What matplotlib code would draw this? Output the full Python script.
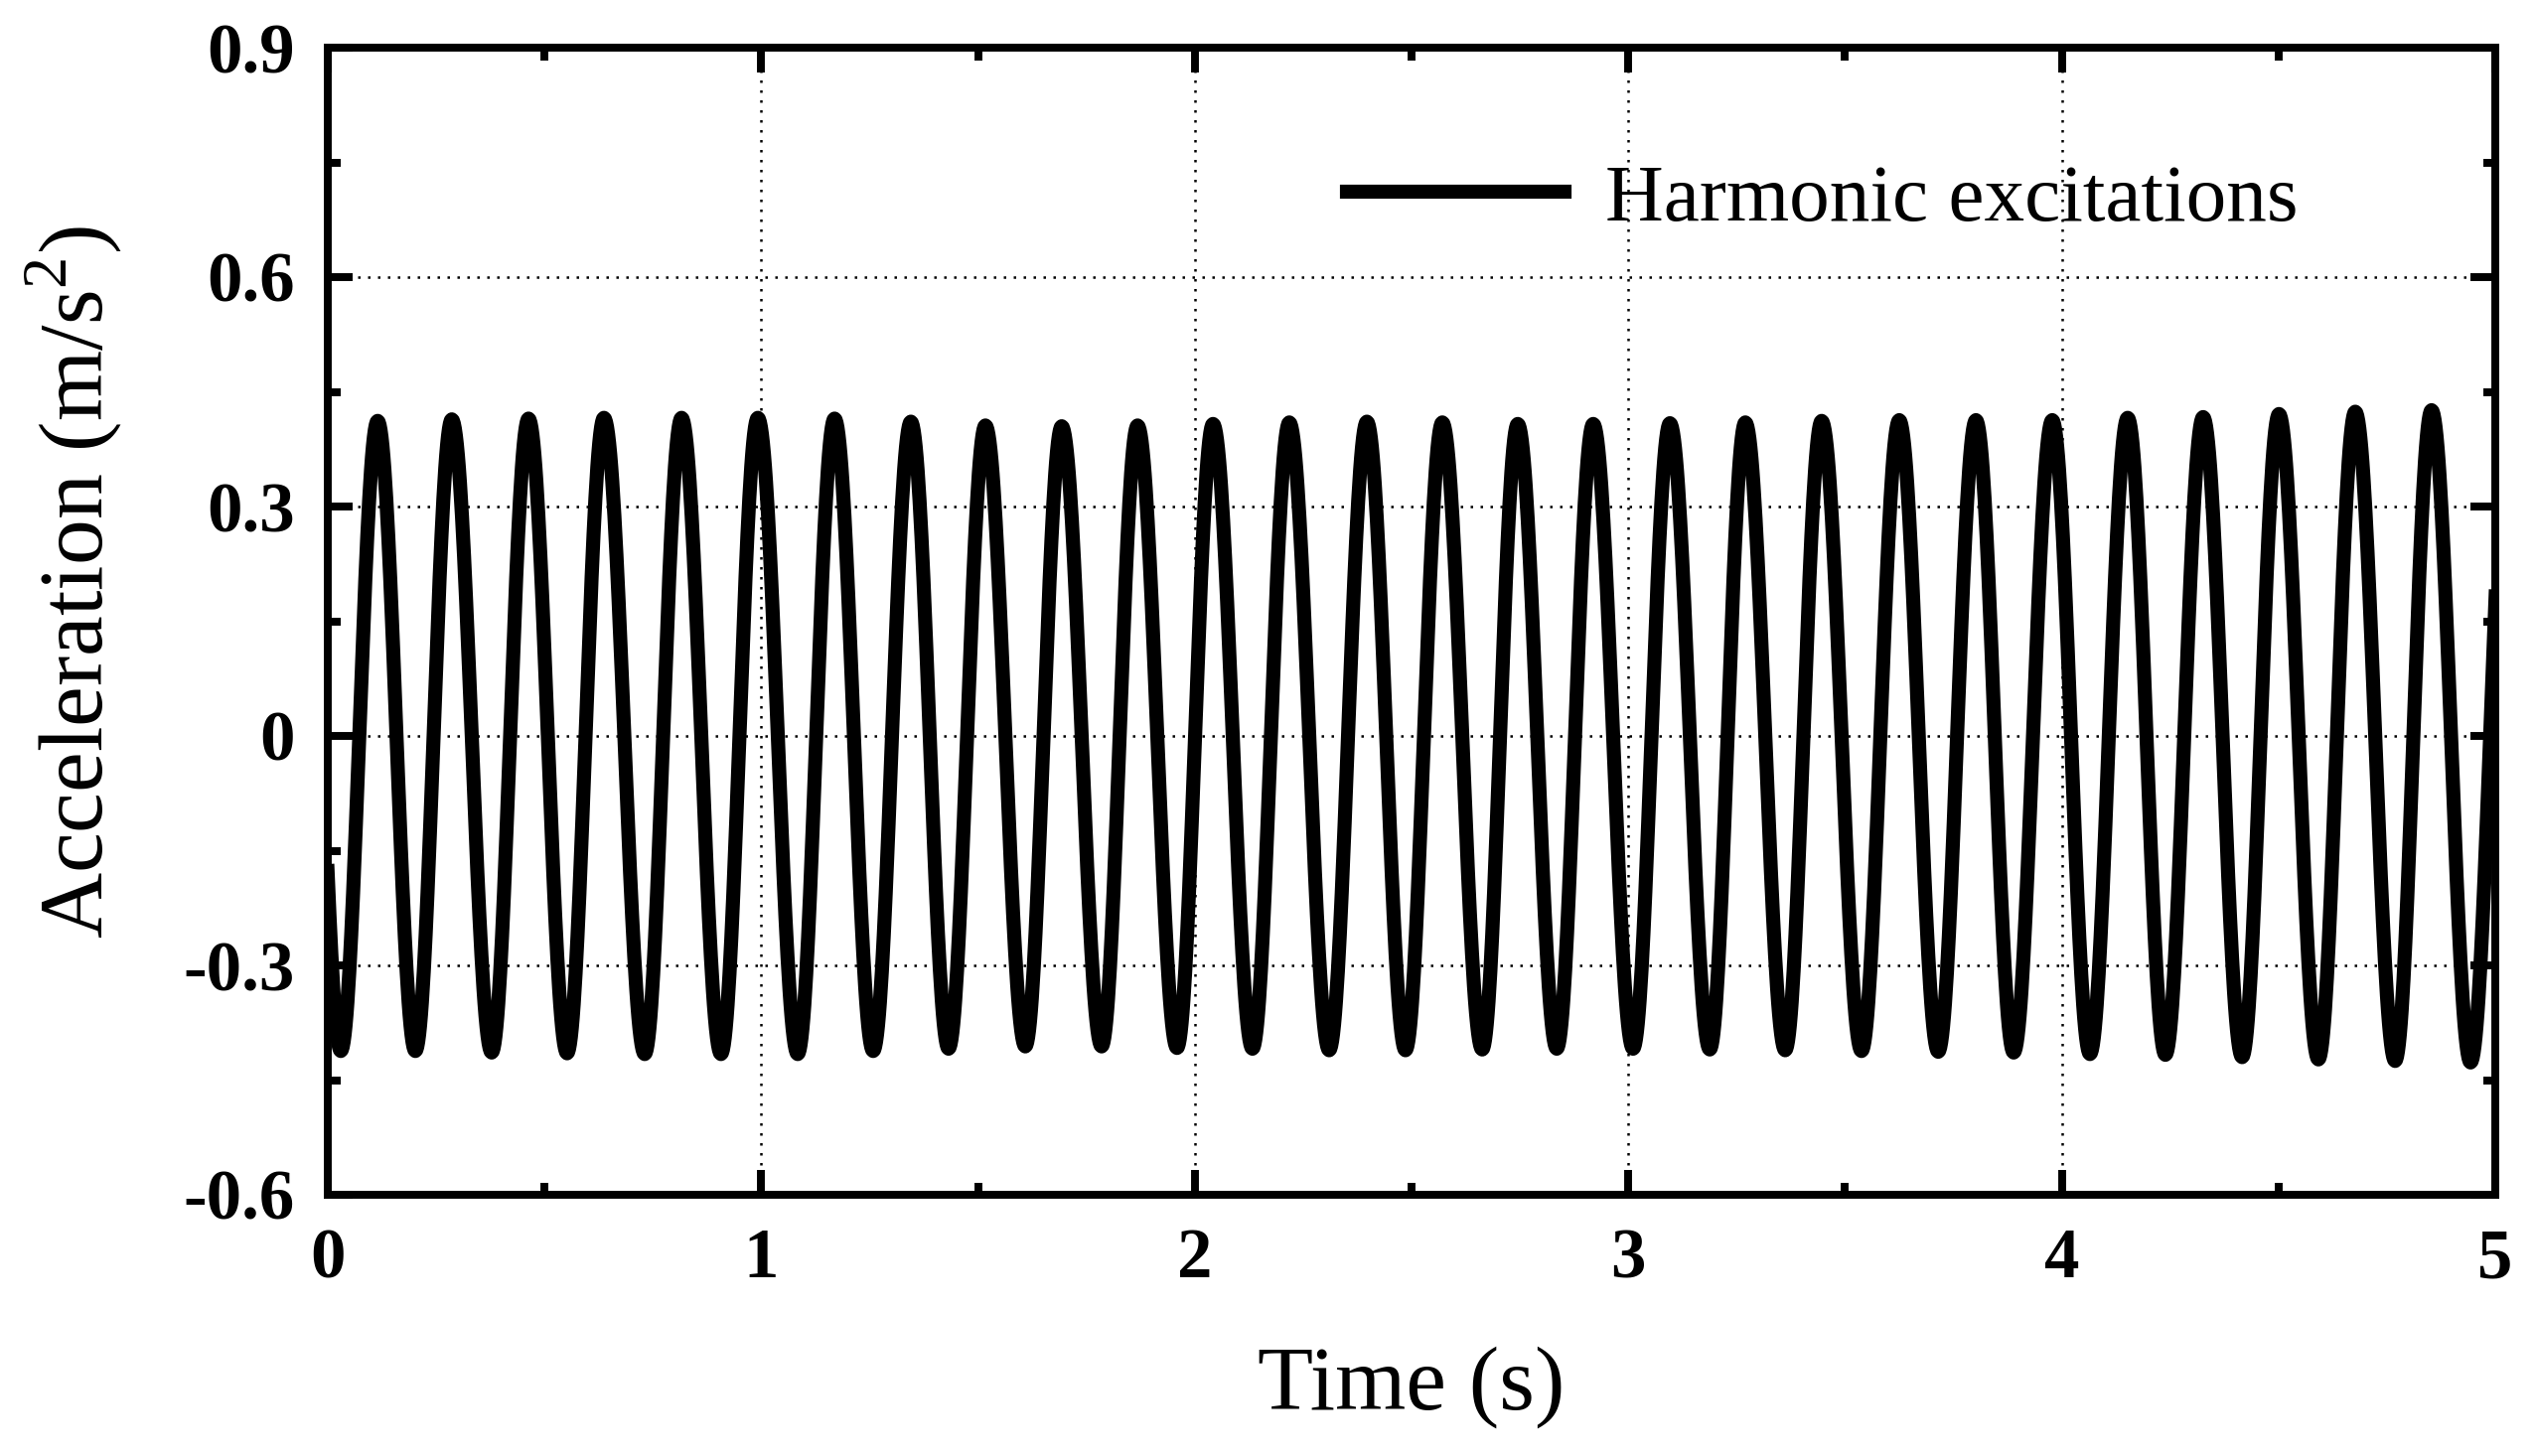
import numpy as np
from matplotlib import pyplot as plt
from matplotlib.ticker import MultipleLocator

plt.rcParams['font.family'] = ['Liberation Serif', 'DejaVu Serif']
plt.rcParams['mathtext.fontset'] = 'custom'
plt.rcParams['mathtext.rm'] = 'Liberation Serif'

# Peaks and troughs (time in s, acceleration in m/s^2)
peak_t = [0.115, 0.286, 0.463, 0.637, 0.816, 0.992, 1.169, 1.345, 1.517, 1.693,
          1.868, 2.042, 2.218, 2.397, 2.571, 2.745, 2.919, 3.096, 3.270, 3.446,
          3.625, 3.802, 3.978, 4.152, 4.326, 4.501, 4.677, 4.853]
peak_a = [0.412, 0.414, 0.415, 0.416, 0.416, 0.416, 0.415, 0.411, 0.406, 0.405,
          0.406, 0.408, 0.410, 0.411, 0.410, 0.408, 0.408, 0.409, 0.410, 0.412,
          0.413, 0.413, 0.413, 0.416, 0.417, 0.421, 0.424, 0.426]
trough_t = [0.030, 0.202, 0.378, 0.552, 0.731, 0.907, 1.084, 1.258, 1.432, 1.609,
            1.785, 1.959, 2.133, 2.310, 2.486, 2.663, 2.835, 3.011, 3.188, 3.362,
            3.538, 3.715, 3.889, 4.065, 4.239, 4.416, 4.592, 4.769, 4.943]
trough_a = [-0.412, -0.412, -0.414, -0.415, -0.416, -0.416, -0.416, -0.412, -0.409, -0.406,
            -0.406, -0.408, -0.409, -0.411, -0.411, -0.410, -0.409, -0.409, -0.410, -0.411,
            -0.412, -0.413, -0.414, -0.416, -0.417, -0.420, -0.423, -0.425, -0.427]

x_ticks = [0, 1, 2, 3, 4, 5]
x_labels = ['0', '1', '2', '3', '4', '5']
y_ticks = [-0.6, -0.3, 0, 0.3, 0.6, 0.9]
y_labels = ['-0.6', '-0.3', '0', '0.3', '0.6', '0.9']

# join extrema with half-cosine arcs
te = np.array(peak_t + trough_t)
ae = np.array(peak_a + trough_a)
order = np.argsort(te)
te = te[order]
ae = ae[order]
# one more arc on each side so the curve reaches the frame
te = np.concatenate(([2 * te[0] - te[1]], te, [2 * te[-1] - te[-2]]))
ae = np.concatenate(([ae[1]], ae, [ae[-2]]))

t = []
acc = []
s = np.linspace(0, 1, 40)
for i in range(len(te) - 1):
    t.append(te[i] + (te[i + 1] - te[i]) * s)
    acc.append(ae[i] + (ae[i + 1] - ae[i]) * (1 - np.cos(np.pi * s)) / 2)
t = np.concatenate(t)
acc = np.concatenate(acc)

fig = plt.figure(figsize=(2553 / 300, 1466 / 300), dpi=300)
ax = fig.add_axes([330 / 2553, 1 - 1203 / 1466, 2182 / 2553, 1155 / 1466])

ax.plot(t, acc, color='k', lw=3.4, label='Harmonic excitations')

ax.set_xlim(0, 5)
ax.set_ylim(-0.6, 0.9)
ax.set_xticks(x_ticks)
ax.set_xticklabels(x_labels, fontsize=17, fontweight='bold')
ax.set_yticks(y_ticks)
ax.set_yticklabels(y_labels, fontsize=17, fontweight='bold')
ax.xaxis.set_minor_locator(MultipleLocator(0.5))
ax.yaxis.set_minor_locator(MultipleLocator(0.15))

ax.tick_params(which='both', direction='in', top=True, right=True, width=1.9)
ax.tick_params(which='major', length=6, pad=8)
ax.tick_params(which='minor', length=3)
for sp in ax.spines.values():
    sp.set_linewidth(1.9)

ax.grid(True, which='major', color='k', lw=0.6, linestyle=(0, (1, 3)))

ax.set_xlabel('Time (s)', fontsize=22, labelpad=13)
ax.set_ylabel('Acceleration (m/s$^{\\mathrm{2}}$)', fontsize=22)
ax.yaxis.set_label_coords(-0.094, 0.534)

ax.legend(loc='center left', bbox_to_anchor=(0.47, 0.867), frameon=False,
          fontsize=19.5, handlelength=2.7, handletextpad=0.5,
          borderpad=0, borderaxespad=0)

fig.savefig('out.png', dpi=300)
